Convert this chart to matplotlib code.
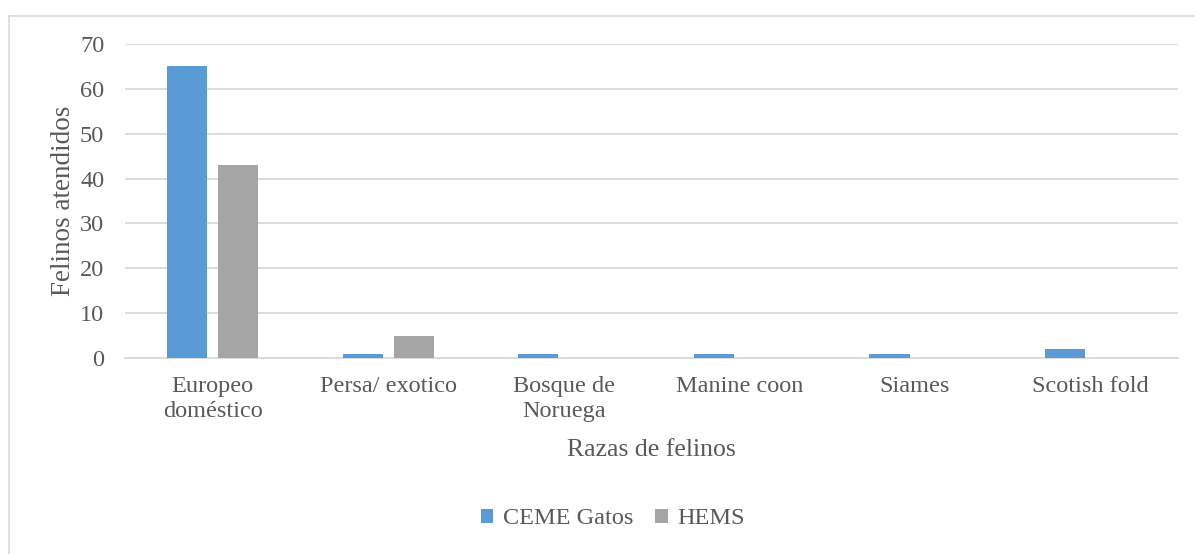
import numpy as np
import matplotlib.pyplot as plt
from matplotlib.lines import Line2D

# Datos
razas = ['Europeo\ndoméstico', 'Persa/ exotico', 'Bosque de\nNoruega',
         'Manine coon', 'Siames', 'Scotish fold']
ceme = [65, 1, 1, 1, 1, 2]
hems = [43, 5, 0, 0, 0, 0]

plt.rcParams['font.family'] = ['Liberation Serif', 'DejaVu Serif']
gris_texto = '#595959'

fig = plt.figure(figsize=(11.95, 5.54), dpi=100)
ax = fig.add_axes([0.1046, 0.3538, 0.8812, 0.5668])

# borde exterior del grafico (solo se ve arriba y a la izquierda)
bx, by = 8.5 / 1195, 1 - 15.5 / 554
fig.lines.append(Line2D([bx, 1.0], [by, by], transform=fig.transFigure,
                        color='#D9D9D9', linewidth=1.2))
fig.lines.append(Line2D([bx, bx], [0.0, by], transform=fig.transFigure,
                        color='#D9D9D9', linewidth=1.2))

x = np.arange(len(razas))
w = 0.228
sep = 0.03
ax.bar(x - w / 2 - sep, ceme, w, color='#5B9BD5', label='CEME Gatos', zorder=3)
ax.bar(x + w / 2 + sep, hems, w, color='#A5A5A5', label='HEMS', zorder=3)

ax.set_xlim(-0.5, len(razas) - 0.5)
ax.set_ylim(0, 70)
ax.set_yticks(range(0, 71, 10))
ax.set_xticks(x)
ax.set_xticklabels(razas, linespacing=1.25)
ax.yaxis.grid(True, color='#D9D9D9', linewidth=1.3, zorder=0)
for s in ['top', 'right', 'left']:
    ax.spines[s].set_visible(False)
ax.spines['bottom'].set_color('#D9D9D9')
ax.spines['bottom'].set_linewidth(1.3)
ax.tick_params(axis='both', length=0, labelsize=17.5, labelcolor=gris_texto)
ax.tick_params(axis='y', pad=15)
ax.tick_params(axis='x', pad=13)

ax.set_xlabel('Razas de felinos', fontsize=18.5, color=gris_texto, labelpad=12)
ax.set_ylabel('Felinos atendidos', fontsize=19.5, color=gris_texto, labelpad=3)

fig.legend(loc='center', bbox_to_anchor=(613 / 1195, 1 - 519 / 554), ncol=2,
           frameon=False, fontsize=17.5, handlelength=0.5, handleheight=0.5,
           handletextpad=0.4, columnspacing=0.9, labelcolor=gris_texto)

plt.savefig('out.png', dpi=100)
